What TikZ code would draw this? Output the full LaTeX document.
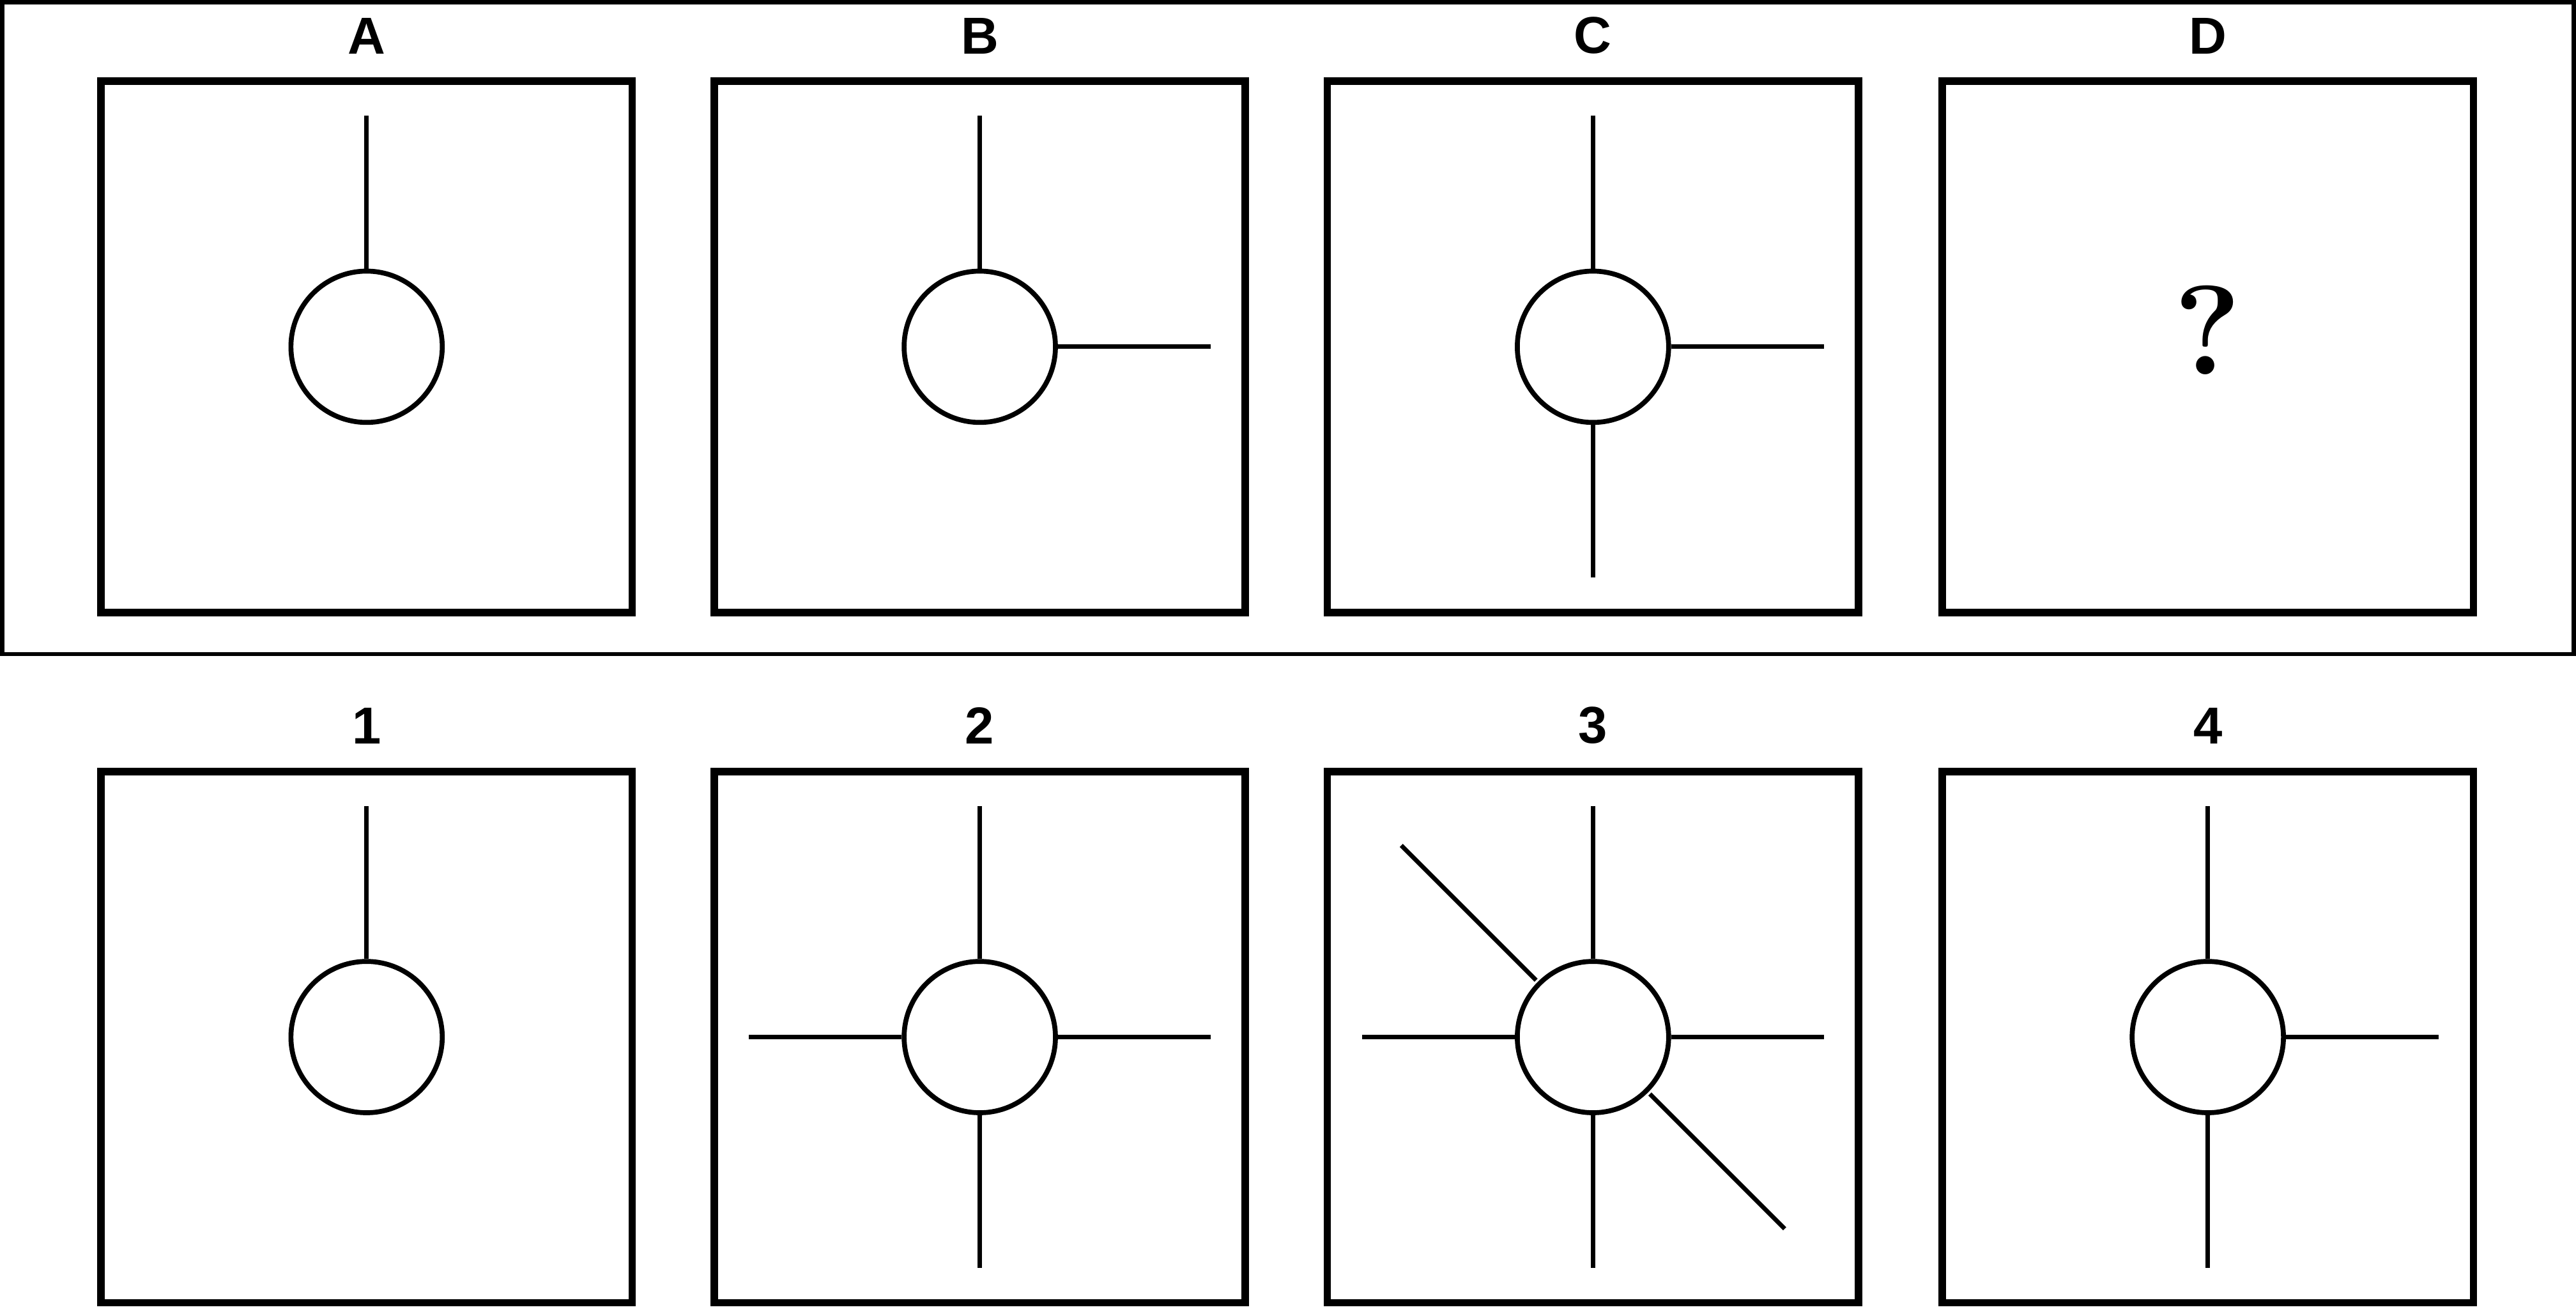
\documentclass[tikz,border=0pt]{standalone}
\usepackage{fontspec}
\setsansfont{Liberation Sans}
\usetikzlibrary{positioning}
\begin{document}
\begin{tikzpicture}[x=0.01cm,y=-0.01cm,
panel/.style={rectangle,draw=black,line width=1.3pt,minimum size=3.23cm,inner sep=0pt},
ring/.style={circle,draw=black,line width=0.85pt,minimum size=0.92cm,inner sep=0pt},
spoke/.style={line width=0.75pt},
tag/.style={font=\sffamily\bfseries\fontsize{9}{10}\selectfont}
]
\useasboundingbox (0,0) rectangle (1567,798);
\draw[line width=0.75pt] (1.5,1.5) rectangle (1565.5,398);
% panels of both rows
\foreach \n/\x in {a/223,b/596,c/969,d/1343}
  \node (box\n) [panel] at (\x,211) {};
\foreach \n/\x in {1/223,2/596,3/969,4/1343}
  \node (box\n) [panel] at (\x,631) {};
\foreach \n/\t in {a/A,b/B,c/C,d/D,1/1,2/2,3/3,4/4}
  \node [tag,above=0.02cm of box\n] {\t};
% circles
\foreach \n in {a,b,c,1,2,3,4}
  \node (ring\n) [ring] at (box\n) {};
\node (query) at ([yshift=0.1cm]boxd) {\bfseries\fontsize{22}{24}\selectfont ?};
% spokes
\foreach \n in {a,b,c,1,2,3,4}
  \draw[spoke] (ring\n.north) -- ++(0,-93);
\foreach \n in {b,c,2,3,4}
  \draw[spoke] (ring\n.east) -- ++(93,0);
\foreach \n in {c,2,3,4}
  \draw[spoke] (ring\n.south) -- ++(0,93);
\foreach \n in {2,3}
  \draw[spoke] (ring\n.west) -- ++(-93,0);
\draw[spoke] (ring3.north west) ++(-1,-1) -- ++(-82,-82);
\draw[spoke] (ring3.south east) ++(1,1) -- ++(82,82);
\end{tikzpicture}
\end{document}
